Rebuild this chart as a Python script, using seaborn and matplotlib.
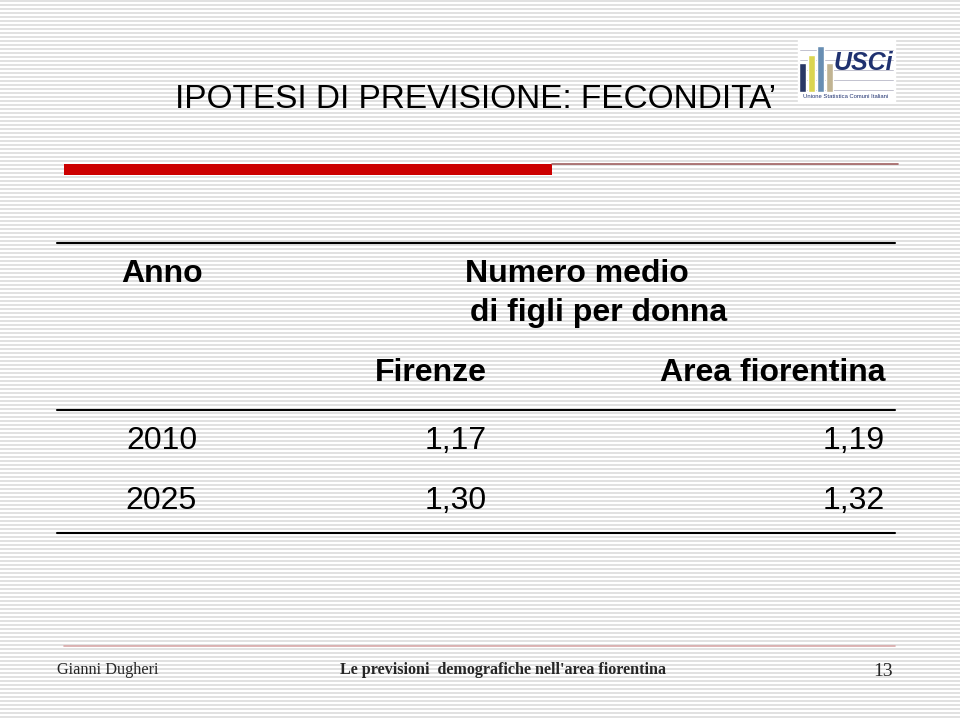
import numpy as np
import pandas as pd
import matplotlib.pyplot as plt
import seaborn as sns

# table data
anni = ["2010", "2025"]
firenze = ["1,17", "1,30"]
area_fiorentina = ["1,19", "1,32"]

# logo bars (heights in arbitrary units)
logo_bars = ["a", "b", "c", "d"]
logo_heights = [29, 37, 46, 29]
logo_colors = ["#1f3170", "#f2ea3a", "#5b8fbf", "#c9b88a"]

sns.set_theme(style="white")
plt.rcParams['font.family'] = ['Liberation Sans', 'DejaVu Sans']

fig = plt.figure(figsize=(9.6, 7.19), dpi=100)
ax = fig.add_axes([0, 0, 1, 1])
ax.set_xlim(0, 960)
ax.set_ylim(719, 0)
ax.axis("off")

# striped background
ax.hlines(np.arange(1, 719, 4), 0, 960, color="#dcdcdc", lw=1.2, zorder=0)

# title
ax.text(175, 99, "IPOTESI DI PREVISIONE: FECONDITA\u2019", fontsize=24, va="center", ha="left", color="black")

# red bar and thin line
ax.fill_between([64, 552], 164, 175, color="#cc0000", lw=0, zorder=2)
ax.plot([552, 898], [164, 164], color="#a06060", lw=1.2, zorder=2)

# table lines
for y in [243, 410, 533]:
    ax.plot([57, 895], [y, y], color="black", lw=1.5, zorder=3)

hdr = dict(fontsize=23, fontweight="bold", va="center", color="black")
ax.text(121, 274, "Anno", ha="left", **hdr)
ax.text(577, 274, "Numero medio", ha="center", **hdr)
ax.text(470, 313, "di figli per donna", ha="left", **hdr)
ax.text(487, 373, "Firenze", ha="right", **hdr)
ax.text(885, 373, "Area fiorentina", ha="right", **hdr)

cell = dict(fontsize=23, va="center", color="black")
for i, (a, f, af) in enumerate(zip(anni, firenze, area_fiorentina)):
    y = 441 + i * 60
    ax.text(197, y, a, ha="right", **cell)
    ax.text(487, y, f, ha="right", **cell)
    ax.text(885, y, af, ha="right", **cell)

# footer
ax.plot([64, 895], [646, 646], color="#d8a8a8", lw=1.2, zorder=2)
ax.text(57, 670, "Gianni Dugheri", fontsize=11.7, family="Liberation Serif", va="center", ha="left")
ax.text(503, 670, "Le previsioni  demografiche nell'area fiorentina", fontsize=11.6,
        family="Liberation Serif", fontweight="bold", va="center", ha="center")
ax.text(893, 672, "13", fontsize=14, family="Liberation Serif", va="center", ha="right")

# logo
ax.fill_between([798, 895], 40, 101, color="white", zorder=3)
lax = fig.add_axes([798 / 960, 1 - 92 / 719, 36 / 960, 50 / 719])
logo_df = pd.DataFrame({"bar": logo_bars, "h": logo_heights})
sns.barplot(data=logo_df, x="bar", y="h", hue="bar", palette=logo_colors,
            legend=False, width=0.8, ax=lax)
lax.set_ylim(0, 50)
lax.axis("off")
lax.patch.set_alpha(0)
for y in [50, 60, 70, 80, 90]:
    ax.plot([800, 893], [y, y], color="#b8b8c8", lw=0.6, zorder=3.5)
ax.text(863, 63, "USCi", fontsize=18, fontstyle="italic", fontweight="bold",
        color="#1f3170", ha="center", va="center", zorder=5)
ax.text(846, 96, "Unione Statistica Comuni Italiani", fontsize=4.2,
        color="#1f3170", ha="center", va="center", zorder=5)

fig.savefig("out.png", dpi=100)
